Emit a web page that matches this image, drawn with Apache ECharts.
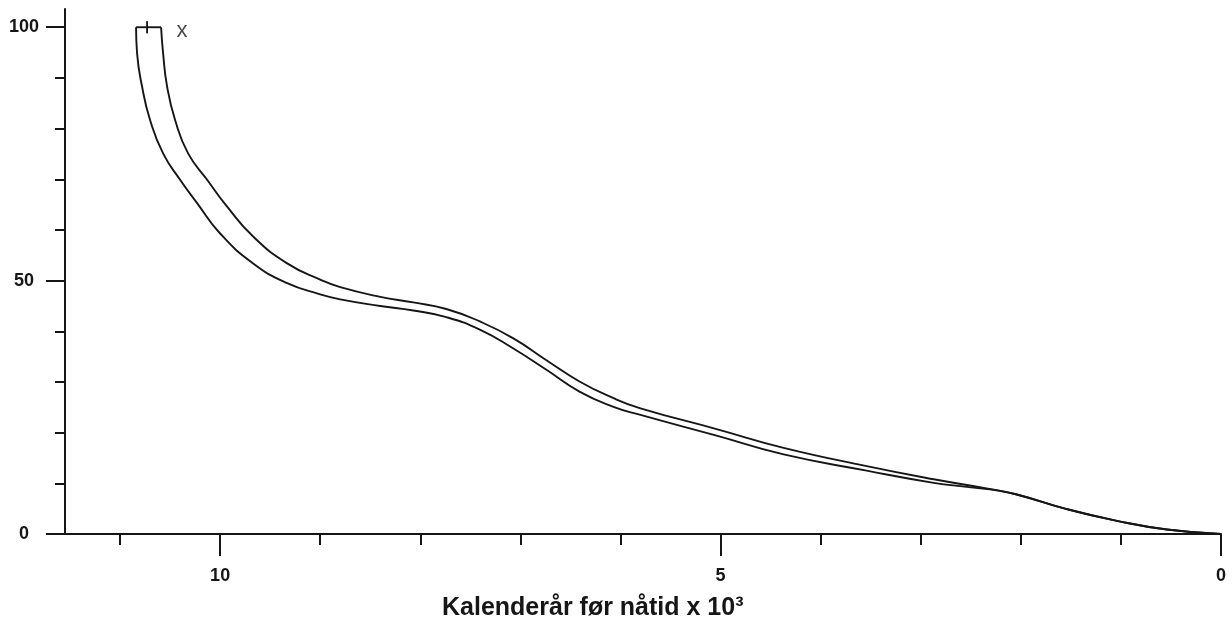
<!DOCTYPE html>
<html>
<head>
<meta charset="utf-8">
<script src="https://cdn.jsdelivr.net/npm/echarts@6/dist/echarts.min.js"></script>
<style>
html,body{margin:0;padding:0;background:#fff;}
#chart{width:1232px;height:619px;}
</style>
</head>
<body>
<div id="chart"></div>
<script>
// Data (x = calendar years before present ×10³, y = percent)
const olderCurve = [[10.84,100],[10.83,94.9],[10.78,88.3],[10.70,81.7],[10.57,75.1],[10.40,69.9],[10.23,65.3],[10.00,59.3],[9.67,53.4],[9.33,49.5],[9.00,47.3],[8.80,46.3],[8.40,45.0],[8.07,44.1],[7.74,42.8],[7.40,40.3],[7.07,36.6],[6.74,32.4],[6.41,28.1],[6.07,25.1],[5.80,23.5],[5.04,19.4],[4.37,15.7],[3.54,12.5],[2.87,10.1],[2.54,9.3],[2.21,8.5],[2.04,7.8],[1.54,4.9],[1.04,2.6],[0.54,0.9],[0,0]];
const youngerCurve = [[10.59,100],[10.57,94.9],[10.53,88.3],[10.45,81.7],[10.32,75.1],[10.13,69.9],[9.93,64.6],[9.67,58.7],[9.33,53.4],[9.00,50.2],[8.80,48.7],[8.40,46.8],[8.07,45.7],[7.74,44.4],[7.40,41.9],[7.07,38.6],[6.74,34.3],[6.41,30.1],[6.07,26.8],[5.80,24.8],[5.04,20.7],[4.37,17.0],[3.54,13.4],[2.87,10.8],[2.37,9.1],[2.04,7.8],[1.54,4.9],[1.04,2.6],[0.54,0.9],[0,0]];
const topCap = [[10.84,100],[10.59,100]];
const capTick = [[10.73,101.2],[10.73,98.8]];
const topMarker = [[10.38,99.3]];
const topMarkerText = 'x';
const xMajorTicks = [0,5,10];
const xMinorTicks = [1,2,3,4,6,7,8,9,11];
const yMajorTicks = [0,50,100];
const yMinorTicks = [10,20,30,40,60,70,80,90];
const xAxisTitle = 'Kalenderår før nåtid x 10³';

const FONT = '"Liberation Sans", Arial, sans-serif';
const INK = '#161616';
const X_MIN = 0, X_MAX = 11.55, Y_MIN = 0, Y_MAX = 103.6;

const chart = echarts.init(document.getElementById('chart'), null, {renderer:'canvas'});
const lineStyle = {color: INK, width: 1.9};
chart.setOption({
  animation: false,
  backgroundColor: '#fff',
  title: {
    text: xAxisTitle,
    left: 437, top: 591,
    textStyle: {fontFamily: FONT, fontWeight: 'bold', fontSize: 25, color: INK}
  },
  grid: {left: 65, right: 11, top: 9, bottom: 85, containLabel: false, outerBoundsMode: 'none'},
  xAxis: [
    {
      type: 'value', min: X_MIN, max: X_MAX, inverse: true, position: 'bottom',
      splitLine: {show: false},
      axisLine: {show: true, onZero: false, lineStyle: {color: INK, width: 2}},
      axisTick: {show: true, length: 22, customValues: xMajorTicks, lineStyle: {color: INK, width: 2}},
      axisLabel: {show: true, customValues: xMajorTicks, margin: 33, fontFamily: FONT, fontWeight: 'bold', fontSize: 18, color: INK}
    },
    {
      type: 'value', min: X_MIN, max: X_MAX, inverse: true, position: 'bottom',
      splitLine: {show: false},
      axisLine: {show: false, onZero: false},
      axisTick: {show: true, length: 11, customValues: xMinorTicks, lineStyle: {color: INK, width: 2}},
      axisLabel: {show: false}
    }
  ],
  yAxis: [
    {
      type: 'value', min: Y_MIN, max: Y_MAX, position: 'left',
      splitLine: {show: false},
      axisLine: {show: true, onZero: false, lineStyle: {color: INK, width: 2}},
      axisTick: {show: true, length: 19, customValues: yMajorTicks, lineStyle: {color: INK, width: 2}},
      axisLabel: {show: true, customValues: yMajorTicks, margin: 41, align: 'center', fontFamily: FONT, fontWeight: 'bold', fontSize: 18, color: INK}
    },
    {
      type: 'value', min: Y_MIN, max: Y_MAX, position: 'left',
      splitLine: {show: false},
      axisLine: {show: false, onZero: false},
      axisTick: {show: true, length: 10, customValues: yMinorTicks, lineStyle: {color: INK, width: 2}},
      axisLabel: {show: false}
    }
  ],
  series: [
    {type: 'line', data: olderCurve, smooth: 0.5, symbol: 'none', lineStyle: lineStyle},
    {type: 'line', data: youngerCurve, smooth: 0.5, symbol: 'none', lineStyle: lineStyle},
    {type: 'line', data: topCap, symbol: 'none', lineStyle: lineStyle},
    {type: 'line', data: capTick, symbol: 'none', lineStyle: lineStyle},
    {type: 'scatter', data: topMarker, symbolSize: 0,
     label: {show: true, position: 'inside', formatter: topMarkerText, fontFamily: FONT, fontSize: 22, color: INK}}
  ]
});
</script>
</body>
</html>
